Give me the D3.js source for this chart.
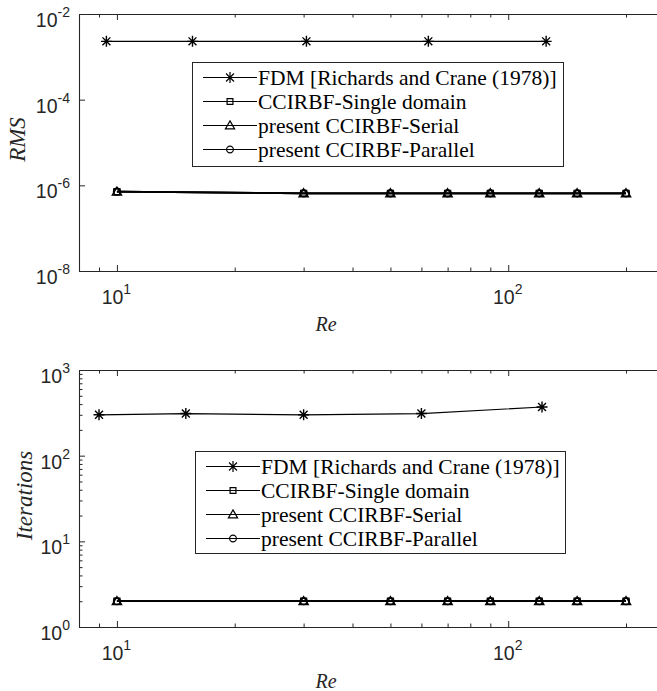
<!DOCTYPE html>
<html>
<head>
<meta charset="utf-8">
<script src="https://cdn.jsdelivr.net/npm/d3@7"></script>
<style>
  html, body { margin: 0; padding: 0; background: #fff; }
  svg { display: block; }
</style>
</head>
<body>
<div id="chart"></div>
<script>
// ---------------- DATA ----------------
const legendLabels = [
  "FDM [Richards and Crane (1978)]",
  "CCIRBF-Single domain",
  "present CCIRBF-Serial",
  "present CCIRBF-Parallel"
];
const markerKinds = ["star", "square", "triangle", "circle"];

// Top panel: RMS
const reFdmRms = [9.4, 15.6, 30.5, 62.5, 125];
const rmsFdm = [2.3e-3, 2.3e-3, 2.3e-3, 2.3e-3, 2.3e-3];
const rePresent = [10, 30, 50, 70, 90, 120, 150, 200];
const rmsSingle = [7.1e-7, 6.5e-7, 6.5e-7, 6.5e-7, 6.5e-7, 6.5e-7, 6.5e-7, 6.5e-7];
const rmsSerial = [7.1e-7, 6.5e-7, 6.5e-7, 6.5e-7, 6.5e-7, 6.5e-7, 6.5e-7, 6.5e-7];
const rmsParallel = [7.1e-7, 6.5e-7, 6.5e-7, 6.5e-7, 6.5e-7, 6.5e-7, 6.5e-7, 6.5e-7];

// Bottom panel: Iterations
const reFdmIter = [9, 15, 30, 60, 122];
const iterFdm = [300, 310, 300, 310, 370];
const iterSingle = [2, 2, 2, 2, 2, 2, 2, 2];
const iterSerial = [2, 2, 2, 2, 2, 2, 2, 2];
const iterParallel = [2, 2, 2, 2, 2, 2, 2, 2];

// Axes
const xDomain = [8, 240];
const xMajorTicks = [10, 100];
const xMinorTicks = [9, 20, 30, 40, 50, 60, 70, 80, 90, 200];
const rmsDomain = [1e-8, 1e-2];
const rmsMajorTicks = [1e-8, 1e-6, 1e-4, 1e-2];
const iterDomain = [1, 1000];
const iterMajorTicks = [1, 10, 100, 1000];
const iterMinorTicks = [2,3,4,5,6,7,8,9,20,30,40,50,60,70,80,90,200,300,400,500,600,700,800,900];

// ---------------- LAYOUT ----------------
const W = 657, H = 691;
const AX = "#262626";
const SANS = "Liberation Sans, Arial, Helvetica, sans-serif";
const SERIF = "Liberation Serif, Times New Roman, Times, serif";

const svg = d3.select("#chart").append("svg")
  .attr("width", W).attr("height", H)
  .attr("viewBox", `0 0 ${W} ${H}`);

const panels = [
  {
    top: 14, bottom: 271, yDomain: rmsDomain, yMajor: rmsMajorTicks, yMinor: [],
    yLabel: "RMS", yLabelX: 25, xLabelY: 331,
    series: [
      {x: reFdmRms, y: rmsFdm, w: 1.2},
      {x: rePresent, y: rmsSingle, w: 1.7},
      {x: rePresent, y: rmsSerial, w: 1.7},
      {x: rePresent, y: rmsParallel, w: 1.7}
    ],
    legend: {x: 192, y: 62, w: 371, h: 104}
  },
  {
    top: 370, bottom: 627, yDomain: iterDomain, yMajor: iterMajorTicks, yMinor: iterMinorTicks,
    yLabel: "Iterations", yLabelX: 32, xLabelY: 688,
    series: [
      {x: reFdmIter, y: iterFdm, w: 1.2},
      {x: rePresent, y: iterSingle, w: 1.7},
      {x: rePresent, y: iterSerial, w: 1.7},
      {x: rePresent, y: iterParallel, w: 1.7}
    ],
    legend: {x: 195, y: 451, w: 370, h: 102}
  }
];

const LEFT = 79, RIGHT = W;

function supLabel(sel, fmtExp) {
  sel.each(function(d) {
    const t = d3.select(this);
    t.text(null);
    t.append("tspan").text("10");
    t.append("tspan").attr("dy", -10).attr("font-size", 14).text(fmtExp(d));
  });
}
const expOf = d => String(Math.round(Math.log10(d)));

function markerPath(kind) {
  if (kind === "star") {
    const r = 5.5, q = r * 0.72;
    return `M0,${-r}V${r}M${-r},0H${r}M${-q},${-q}L${q},${q}M${-q},${q}L${q},${-q}`;
  }
  if (kind === "square") return d3.symbol(d3.symbolSquare, 34)();
  if (kind === "triangle") return "M0,-4.6L4.6,3.4L-4.6,3.4Z";
  if (kind === "circle") return d3.symbol(d3.symbolCircle, 36)();
}

panels.forEach(p => {
  const g = svg.append("g");
  const x = d3.scaleLog().domain(xDomain).range([LEFT, RIGHT]);
  const y = d3.scaleLog().domain(p.yDomain).range([p.bottom, p.top]);

  // bottom axis major
  const xb = g.append("g").attr("transform", `translate(0,${p.bottom})`)
    .call(d3.axisBottom(x).tickValues(xMajorTicks).tickSize(-6).tickSizeOuter(0));
  xb.selectAll(".tick text")
    .attr("y", 33).attr("dy", 0).attr("x", -1)
    .attr("font-family", SANS).attr("font-size", 19.5).attr("fill", AX)
    .attr("text-anchor", "middle")
    .call(supLabel, expOf);
  // bottom minor
  g.append("g").attr("transform", `translate(0,${p.bottom})`)
    .call(d3.axisBottom(x).tickValues(xMinorTicks).tickSize(-3.5).tickSizeOuter(0).tickFormat(""))
    .select(".domain").remove();
  // top border with ticks
  g.append("g").attr("transform", `translate(0,${p.top})`)
    .call(d3.axisTop(x).tickValues(xMajorTicks).tickSize(-6).tickSizeOuter(0).tickFormat(""));
  g.append("g").attr("transform", `translate(0,${p.top})`)
    .call(d3.axisTop(x).tickValues(xMinorTicks).tickSize(-3.5).tickSizeOuter(0).tickFormat(""))
    .select(".domain").remove();

  // left axis
  const yl = g.append("g").attr("transform", `translate(${LEFT},0)`)
    .call(d3.axisLeft(y).tickValues(p.yMajor).tickSize(-6).tickSizeOuter(0));
  yl.selectAll(".tick text")
    .attr("x", -9).attr("dy", 0).attr("y", 12.5)
    .attr("font-family", SANS).attr("font-size", 19.5).attr("fill", AX)
    .attr("text-anchor", "end")
    .call(supLabel, expOf);
  if (p.yMinor.length) {
    g.append("g").attr("transform", `translate(${LEFT},0)`)
      .call(d3.axisLeft(y).tickValues(p.yMinor).tickSize(-3.5).tickSizeOuter(0).tickFormat(""))
      .select(".domain").remove();
  }

  g.selectAll(".domain").attr("stroke", AX).attr("stroke-width", 1.1);
  g.selectAll(".tick line").attr("stroke", AX).attr("stroke-width", 1);

  // axis labels
  g.append("text")
    .attr("x", 326).attr("y", p.xLabelY)
    .attr("text-anchor", "middle")
    .attr("font-family", SERIF).attr("font-style", "italic").attr("font-size", 20)
    .attr("fill", AX).text("Re");
  g.append("text")
    .attr("transform", `translate(${p.yLabelX},${(p.top + p.bottom) / 2 - 3}) rotate(-90)`)
    .attr("text-anchor", "middle")
    .attr("font-family", SERIF).attr("font-style", "italic").attr("font-size", 23)
    .attr("fill", AX).text(p.yLabel);

  // series
  const line = d3.line().x(d => x(d[0])).y(d => y(d[1]));
  p.series.forEach((s, i) => {
    const pts = s.x.map((v, j) => [v, s.y[j]]);
    g.append("path").datum(pts)
      .attr("d", line).attr("fill", "none")
      .attr("stroke", "#000").attr("stroke-width", s.w);
    g.selectAll(null).data(pts).enter().append("path")
      .attr("d", markerPath(markerKinds[i]))
      .attr("transform", d => `translate(${x(d[0])},${y(d[1])})`)
      .attr("fill", "none").attr("stroke", "#000").attr("stroke-width", 1.4);
  });

  // legend
  const L = p.legend;
  const lg = g.append("g").attr("transform", `translate(${L.x},${L.y})`);
  lg.append("rect").attr("x", 0.5).attr("y", 0.5).attr("width", L.w).attr("height", L.h)
    .attr("fill", "#fff").attr("stroke", AX).attr("stroke-width", 1);
  legendLabels.forEach((lab, i) => {
    const ry = 15.5 + i * 24;
    lg.append("line").attr("x1", 11).attr("x2", 65).attr("y1", ry).attr("y2", ry)
      .attr("stroke", "#000").attr("stroke-width", 1.2);
    lg.append("path").attr("d", markerPath(markerKinds[i]))
      .attr("transform", `translate(38,${ry})`)
      .attr("fill", "none").attr("stroke", "#000").attr("stroke-width", 1.2);
    lg.append("text").attr("x", 66).attr("y", ry + 7)
      .attr("font-family", SERIF).attr("font-size", 21.5).attr("fill", "#000")
      .text(lab);
  });
});
</script>
</body>
</html>
